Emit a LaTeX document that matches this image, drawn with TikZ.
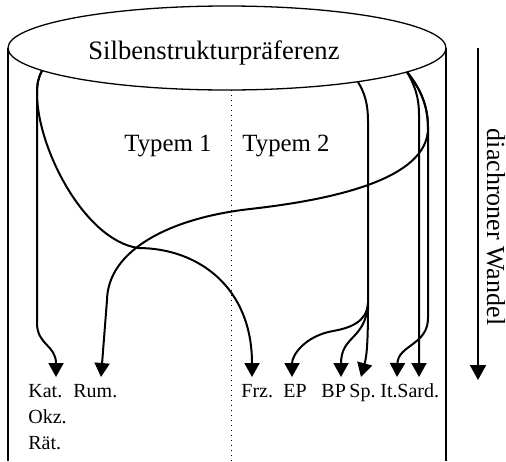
\documentclass[tikz,border=0pt]{standalone}
\usepackage{fontspec}
\setmainfont{Liberation Serif}
\usetikzlibrary{arrows.meta,shapes.geometric}
\begin{document}
\begin{tikzpicture}[x=0.5pt,y=-0.5pt,
  cyl/.style={line width=0.65pt},
  arr/.style={line width=1pt,-{Triangle[width=7.5pt,length=7pt]}},
  lab/.style={anchor=base west,inner sep=0pt,font=\fontsize{10}{12}\selectfont},
  typ/.style={anchor=base west,inner sep=0pt,font=\fontsize{12.4}{15}\selectfont},
]
\useasboundingbox (0,0) rectangle (506,461);
% cylinder
\draw[cyl] (8,48) -- (8,461);
\draw[cyl] (446,48) -- (446,461);
\node[draw,ellipse,cyl,minimum width=219pt,minimum height=42pt,inner sep=0pt] (ell) at (227,48) {};
\node[anchor=base,inner sep=0pt,font=\fontsize{13.3}{16}\selectfont] (title) at (214,59) {Silbenstrukturpräferenz};
\coordinate (dTop) at (231,90);
\coordinate (dBot) at (231,461);
\draw[dotted,line width=0.5pt] (dTop) -- (dBot);
% texts
\node[typ] (t1) at (124,151) {Typem 1};
\node[typ] (t2) at (242,151) {Typem 2};
\node[lab] (kat) at (28,397) {Kat.};
\node[lab] (okz) at (28,423) {Okz.};
\node[lab] (raet) at (28,449) {Rät.};
\node[lab] (rum) at (73,397) {Rum.};
\node[lab] (frz) at (241,397) {Frz.};
\node[lab] (ep) at (283,397) {EP};
\node[lab] (bp) at (321,397) {BP};
\node[lab] (sp) at (349,397) {Sp.};
\node[lab] (it) at (380,397) {It.};
\node[lab] (sard) at (397,397) {Sard.};
% start and tip coordinates
\coordinate (sL) at (42,71);
\coordinate (sM) at (358,82);
\coordinate (sR) at (407,72);
\coordinate (br) at (368,303);
\coordinate (tKat) at (56,377);
\coordinate (tRum) at (101,377);
\coordinate (tFrz) at (252,377);
\coordinate (tEP) at (292,377);
\coordinate (tBP) at (341,377);
\coordinate (tSp) at (361,377);
\coordinate (tIt) at (397,377);
\coordinate (tSard) at (419,377);
% arrows
\draw[arr] (sL) .. controls (38,78) and (37,84) .. (37,95) -- (37,323) .. controls (37,345) and (56,345) .. (tKat);
\draw[arr] (sL) .. controls (38,78) and (37,84) .. (37,95) .. controls (38,150) and (85,240) .. (138,248) .. controls (198,248) and (252,287) .. (tFrz);
\draw[arr] (sR) .. controls (420,88) and (428,105) .. (428,128) .. controls (428,180) and (330,200) .. (250,209) .. controls (170,218) and (108,250) .. (107,300) -- (tRum);
\draw[arr] (sR) .. controls (420,88) and (428,105) .. (428,128) -- (428,318) .. controls (428,345) and (398,345) .. (tIt);
\draw[arr] (sR) .. controls (414,84) and (419,96) .. (419,115) -- (tSard);
\draw[arr] (sM) .. controls (364,92) and (368,102) .. (368,122) -- (br) .. controls (367,322) and (350,328) .. (333,331) .. controls (305,336) and (292,355) .. (tEP);
\draw[arr] (br) .. controls (366,340) and (341,335) .. (tBP);
\draw[arr] (br) .. controls (368,340) and (367,355) .. (tSp);
% diachronic arrow
\coordinate (wTop) at (478,48);
\coordinate (wBot) at (478,380);
\draw[line width=1pt,-{Triangle[width=8pt,length=7.5pt]}] (wTop) -- (wBot);
\node[rotate=-90,anchor=base,inner sep=0pt,font=\fontsize{13}{15}\selectfont] (wandel) at (487,227) {diachroner Wandel};
\end{tikzpicture}
\end{document}
